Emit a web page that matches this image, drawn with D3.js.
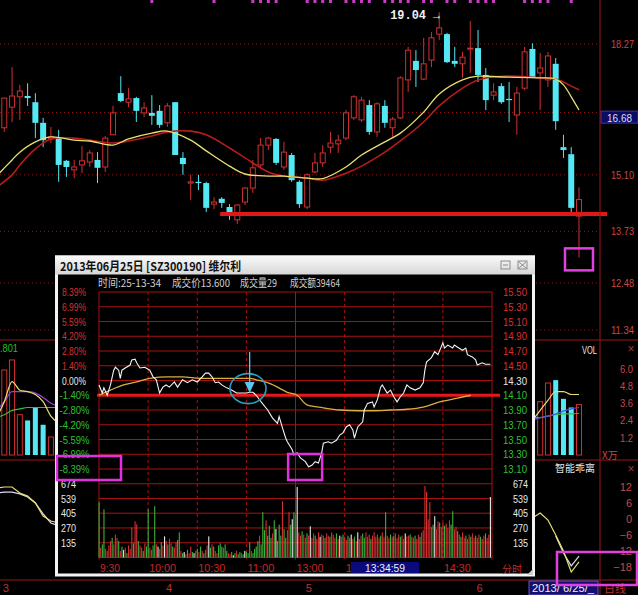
<!DOCTYPE html>
<html><head><meta charset="utf-8">
<script src="https://cdn.jsdelivr.net/npm/d3@7"></script>
<style>body{margin:0;background:#000}svg{display:block}</style></head>
<body><svg id="c" width="638" height="595"></svg>
<script>
// ---------------- DATA ----------------
const candleOpen = [
15.46,16.24,16.74,16.99,17.01,16.86,16.36,15.97,15.99,15.44,
15.22,15.34,15.41,15.46,15.29,16.07,17.08,16.86,16.96,16.60,
16.60,16.65,16.36,16.86,15.51,14.90,14.93,14.90,14.39,14.52,
14.32,14.01,14.44,14.78,15.34,15.82,15.97,15.29,15.58,14.93,
14.32,15.17,15.39,15.77,15.85,15.99,16.48,16.43,16.79,16.14,
16.77,16.24,16.48,17.40,17.86,17.42,17.88,18.51,18.51,17.86,
17.79,18.15,18.17,17.52,17.03,17.25,16.94,16.55,17.20,18.15,
17.57,17.40,17.79,15.77,15.60,14.10];
const candleHigh = [
16.02,16.96,17.71,17.28,17.32,17.08,16.48,16.26,16.19,15.46,
15.46,15.80,15.70,15.65,16.04,16.77,17.49,17.20,16.99,16.86,
17.03,16.79,16.84,16.86,15.65,15.10,15.10,14.93,14.56,14.56,
14.39,14.39,14.80,15.46,15.99,16.02,15.99,15.90,15.63,14.97,
15.14,15.63,15.82,16.14,16.07,16.67,17.03,16.99,16.91,16.86,
16.91,16.50,17.49,18.20,18.12,18.42,18.56,19.04,18.54,18.20,
18.08,18.83,18.61,17.69,17.32,17.32,17.35,17.23,18.20,18.29,
18.05,18.08,17.93,16.07,15.77,14.80];
const candleLow = [
15.46,16.14,16.38,16.43,16.77,15.99,15.77,15.87,14.93,15.05,
15.02,15.14,15.29,14.90,15.17,16.07,16.86,16.74,16.38,16.50,
16.31,16.24,16.26,15.58,15.10,14.49,14.73,14.20,14.27,14.30,
14.01,13.91,14.37,14.66,15.27,15.70,15.34,15.22,14.93,14.30,
14.27,15.14,15.29,15.63,15.63,15.94,16.43,16.38,16.07,16.02,
16.24,16.02,16.45,17.11,17.23,17.40,17.71,18.37,17.81,17.71,
17.45,17.57,17.35,16.67,16.91,16.82,16.38,16.07,17.15,17.45,
16.67,17.23,16.19,15.51,14.18,13.10];
const candleClose = [
16.02,16.96,17.01,17.13,16.96,16.36,15.94,16.02,15.34,15.29,
15.29,15.44,15.63,15.27,15.99,16.60,16.89,16.94,16.65,16.72,
16.53,16.31,16.77,15.58,15.36,14.93,14.90,14.30,14.44,14.42,
14.18,14.37,14.78,15.27,15.82,15.99,15.39,15.65,14.97,14.39,
15.10,15.39,15.63,15.87,15.94,16.60,16.99,16.91,16.14,16.82,
16.36,16.45,17.45,18.12,17.64,17.79,18.42,18.66,17.83,17.79,
17.95,18.17,17.52,16.91,17.11,16.86,16.91,17.08,18.08,17.47,
17.69,17.98,16.40,15.70,14.30,14.50];

const maIdx   = [0,2,3,5,7,10,12,15,17,20,22,25,27,30,32,35,37,40,42,45,47,50,52,55,57,60,62,65,70,72,73,74,75];
const maShort = [15.07,15.46,15.65,15.90,16.02,15.94,15.92,15.82,15.97,16.11,16.16,15.94,15.68,15.31,15.12,15.07,15.07,15.02,15.01,15.29,15.58,15.90,16.11,16.62,17.06,17.40,17.49,17.47,17.45,17.42,17.28,16.99,16.67];
const maLong  = [14.80,15.10,15.34,15.73,15.97,15.99,15.94,15.87,15.92,16.04,16.14,16.16,16.07,15.75,15.51,15.17,15.07,15.02,14.97,15.14,15.31,15.65,15.92,16.38,16.77,17.20,17.40,17.49,17.45,17.42,17.35,17.25,17.16];

const gridPrices = [18.27,16.61,15.10,13.73,12.48,11.34];
const labelPrices = [18.27,15.10,13.73,12.48,11.34];
const signalIdx = [20,28,33,34,35,36,40,41,42,43,45,46,47,48,50,51,52,53,55,56,58,59,61,62,63,64,68,69,70,71,74];
const supportLevel = 14.15;
const highLabel = "19.04";
const cursorPrice = "16.68";

const volIdx = [1,2,3,4,5,6,7,70,71,72,73,74,75];
const volVal = [5.9,6.6,2.8,2.4,3.3,2.1,1.25,3.7,5.0,5.2,3.9,3.3,3.5];
const volTicks = [1.2,2.4,3.6,4.8,6.0];
const volMaIdxL = [0,1,2,3,4,5,6,7,8];
const volMaYellowL = [2.6,3.7,5.1,4.5,4.4,4.2,3.7,2.7,2.2];
const volMaPurpleL = [3.1,3.7,4.4,4.4,4.4,4.3,4.0,3.6,3.4];
const volMaGreenL  = [2.6,2.8,3.1,3.2,3.3,3.3,3.3,3.3,3.3];
const volMaIdxR = [69,70,71,72,73,74,75];
const volMaYellowR = [2.4,3.1,3.8,4.4,4.4,4.2,4.2];
const volMaPurpleR = [2.4,2.6,2.7,2.85,3.05,3.2,3.3];
const volMaGreenR  = [2.6,2.6,2.7,2.8,2.85,2.85,2.9];

const biasTicks = [12,6,0,-6,-12,-18];
const biasIdxL = [0,1,2,3,4,5,6,7,8];
const biasYellowL = [11.6,12,12,9.75,8.6,6,1.1,-0.75,-1.5];
const biasWhiteL  = [9.75,10.1,10.1,9.4,8.25,6,1.9,-1.5,-2.6];
const biasIdxR = [69,70,71,72,73,74,75];
const biasYellowR = [0.4,2.25,-0.4,-6,-12,-19.9,-16.1];
const biasIdxR2 = [72,73,74,75];
const biasWhiteR  = [-6.4,-12.75,-17.6,-13.9];

const monthIdx = [1,22,40,62];
const monthLabels = ["3","4","5","6"];

const prevClose = 14.30;
const intraTicks = [15.50,15.30,15.10,14.90,14.70,14.50,14.30,14.10,13.90,13.70,13.50,13.30,13.10];
const pctLabels = ["8.39%","6.99%","5.59%","4.20%","2.80%","1.40%","0.00%","-1.40%","-2.80%","-4.20%","-5.59%","-6.99%","-8.39%"];
const intraVolTicks = [135,270,405,539,674];
const gridMinutes = [0,30,60,90,120,150,180,210,240];
const timeMinutes = [0,30,60,90,120,210];
const timeLabels = ["9:30","10:00","10:30","11:00","13:00","14:30"];
const cursorTime = "13:34:59";
const refLevel = 14.10;

const tickMin = [0,2,3,5,7,9,10,12,13,14,16,19,20,22,23,25,28,31,33,35,37,39,41,43,46,48,51,54,57,60,63,65,67,69,71,73,75,78,81,84,87,90,92,94,96,99,103,106,109,110,112,114,115,118,119,121,123,126,128,130,132,134,136,137,140,142,145,147,149,151,153,155,156,158,161,162,164,167,168,170,172,173,176,178,180,182,184,186,188,190,193,196,198,199,200,203,205,207,210,211,213,216,217,219,222,224,225,228,230,231,234,236,239];
const tickPrice = [14.24,14.13,14.20,14.10,14.24,14.44,14.48,14.44,14.33,14.44,14.47,14.51,14.58,14.59,14.54,14.47,14.48,14.44,14.35,14.31,14.13,14.21,14.24,14.21,14.28,14.21,14.31,14.27,14.31,14.28,14.35,14.40,14.40,14.35,14.27,14.28,14.24,14.20,14.17,14.13,14.13,14.13,14.14,14.14,14.10,14.01,13.90,13.79,13.72,13.81,13.66,13.52,13.47,13.36,13.29,13.32,13.25,13.20,13.13,13.15,13.20,13.18,13.32,13.45,13.47,13.45,13.49,13.56,13.59,13.67,13.70,13.63,13.52,13.67,13.74,13.90,13.99,14.01,13.94,14.04,14.21,14.24,14.13,14.17,14.08,14.01,14.08,14.13,14.24,14.20,14.17,14.20,14.27,14.44,14.55,14.61,14.69,14.65,14.81,14.74,14.78,14.74,14.78,14.75,14.71,14.74,14.65,14.62,14.58,14.51,14.54,14.52,14.52];
const avgMin = [0,7,15,23,31,42,51,62,72,82,92,96,103,109,115,121,127,137,147,158,167,178,188,198,208,219,227];
const avgPrice = [14.10,14.17,14.24,14.28,14.33,14.35,14.35,14.33,14.33,14.33,14.33,14.31,14.27,14.21,14.14,14.10,13.97,13.93,13.90,13.89,13.89,13.90,13.91,13.94,14.01,14.06,14.10];

const minuteVol = [
506,90,120,441,80,60,110,150,180,120,
210,180,150,60,100,70,90,40,110,80,
276,130,331,303,150,110,90,60,130,100,
441,90,70,110,469,120,100,80,140,110,
193,150,120,170,130,100,90,140,160,230,
60,40,50,30,70,40,100,50,40,60,
80,50,100,60,40,70,110,193,90,120,
100,60,40,110,130,100,90,120,60,40,
30,50,20,40,60,30,50,40,30,60,
50,40,138,60,40,80,100,150,200,120,
414,250,340,200,290,180,220,340,260,150,
300,200,515,260,180,250,414,300,350,414,
400,644,230,200,240,210,180,220,200,285,
180,220,200,170,230,190,210,200,180,220,
200,190,230,210,180,220,170,200,190,210,
190,160,200,180,210,170,190,150,230,170,
200,220,180,230,190,210,170,200,230,190,
210,180,200,230,190,414,200,180,210,190,
200,220,180,210,190,200,170,220,193,200,
211,190,180,200,170,210,190,230,250,653,
600,350,506,280,300,377,260,330,320,280,
320,290,310,270,340,300,423,260,280,240,
210,190,230,180,200,170,210,190,220,180,
200,180,210,190,170,200,220,180,210,552];
const minuteDir = [
"grggrrrrgr","rrgrgwrgrr","rgrrgrrgrg","grrggrwrgr","wrgrrgrrgg",
"rgwrgrrgwr","grgrgrrwgr","grrgggrggr","rgwgrggrgw","gggrggggrg",
"ggrgggrgwg","ggrggrrgwg","rwrrgrrgrw","rrgrrwrrgr","rgrrrgrwrg",
"rrgrwrgrwr","rggrrrgrrr","rrgrrgrrgr","grrrgrrwrr","grrgrrgrrr",
"rrrrgwrrgr","rgrrrggrrg","rgrrgrrgrr","grrgrrgrrw"].join("");

const titleText = "2013年06月25日 [SZ300190] 维尔利";
const infoTexts = ["时间:25-13-34","成交价13.600","成交量29","成交额39464"];

// ---------------- DRAWING ----------------
const RED="#d03030", CYAN="#54e8f4", YEL="#e8e070", GRID="#8a1414";
const NUM="'Liberation Sans',Arial,sans-serif", CJK="'Noto Sans CJK SC','Noto Sans',sans-serif";
const svg = d3.select("#c");
svg.append("rect").attr("width",638).attr("height",595).attr("fill","#000");

function txt(g,x,y,s,o={}){
  const t=g.append("text").attr("x",x).attr("y",y).text(s)
    .attr("fill",o.fill||"#fff").attr("font-size",o.size||11)
    .attr("font-family",o.font||NUM).attr("text-anchor",o.anchor||"start")
    .attr("dominant-baseline","central");
  if(o.w) t.attr("textLength",o.w).attr("lengthAdjust","spacingAndGlyphs");
  if(o.weight) t.attr("font-weight",o.weight);
  return t;
}

const xc = d3.scaleLinear().domain([1,75]).range([4.3,579]);
const yMain = d3.scaleLinear().domain([11.34,18.27]).range([330,44]);
const yVol = d3.scaleLinear().domain([0,6.0]).range([455,368.6]);
const yBias = d3.scaleLinear().domain([-18,12]).range([567,487]);

const defs = svg.append("defs");
defs.append("clipPath").attr("id","cm").append("rect").attr("x",0).attr("y",0).attr("width",600).attr("height",340);
defs.append("clipPath").attr("id","cv").append("rect").attr("x",0).attr("y",340).attr("width",600).attr("height",120);
defs.append("clipPath").attr("id","cb").append("rect").attr("x",0).attr("y",460).attr("width",600).attr("height",120);

// main panel
const gm = svg.append("g").attr("clip-path","url(#cm)");
gm.selectAll("line.g").data(gridPrices).join("line")
  .attr("x1",0).attr("x2",600).attr("y1",d=>yMain(d)).attr("y2",d=>yMain(d))
  .attr("stroke",GRID).attr("stroke-dasharray","1,3");

const candles = d3.range(candleOpen.length).map(i=>({i,o:candleOpen[i],h:candleHigh[i],l:candleLow[i],c:candleClose[i]}));
const cg = gm.selectAll("g.c").data(candles).join("g");
cg.append("line").attr("x1",d=>xc(d.i)).attr("x2",d=>xc(d.i))
  .attr("y1",d=>yMain(d.h)).attr("y2",d=>yMain(d.l))
  .attr("stroke",d=>d.c>=d.o?RED:CYAN).attr("stroke-width",1);
cg.append("rect")
  .attr("x",d=>d.c>=d.o?xc(d.i)-2.5:xc(d.i)-3)
  .attr("width",d=>d.c>=d.o?5:6)
  .attr("y",d=>yMain(Math.max(d.o,d.c)))
  .attr("height",d=>Math.max(1,Math.abs(yMain(d.o)-yMain(d.c))))
  .attr("fill",d=>d.c>=d.o?"#000":CYAN)
  .attr("stroke",d=>d.c>=d.o?RED:"none");

const maLine = d3.line().x(d=>xc(d[0])).y(d=>yMain(d[1])).curve(d3.curveCatmullRom);
gm.append("path").attr("d",maLine(maIdx.map((k,j)=>[k,maLong[j]]))).attr("fill","none").attr("stroke","#b81c1c").attr("stroke-width",1.6);
gm.append("path").attr("d",maLine(maIdx.map((k,j)=>[k,maShort[j]]))).attr("fill","none").attr("stroke",YEL).attr("stroke-width",1.3);

gm.selectAll("rect.s").data(signalIdx).join("rect")
  .attr("x",d=>xc(d)-1.5).attr("y",0).attr("width",3).attr("height",3).attr("fill","#c83cc8");

svg.append("line").attr("x1",xc(28.8)).attr("x2",607).attr("y1",yMain(supportLevel)).attr("y2",yMain(supportLevel))
  .attr("stroke","#e01818").attr("stroke-width",4);
txt(svg,xc(57)-49,yMain(19.04)+4,highLabel+" →",{fill:"#f0f0f0",size:12,font:"'Liberation Mono',monospace",weight:"bold",w:50});
svg.append("rect").attr("x",xc(75)-14).attr("y",yMain(13.10)-9).attr("width",28).attr("height",22)
  .attr("fill","none").attr("stroke","#e040e0").attr("stroke-width",2.5);

// price axis
const ax = svg.append("g").attr("transform","translate(611,0)")
  .call(d3.axisRight(yMain).tickValues(labelPrices).tickSize(0).tickPadding(0).tickFormat(d3.format(".2f")));
ax.select(".domain").remove();
ax.selectAll("text").attr("fill","#c84848").attr("font-size",11).attr("font-family",NUM)
  .attr("textLength",23).attr("lengthAdjust","spacingAndGlyphs");
svg.append("rect").attr("x",601).attr("y",yMain(16.68)+1.5).attr("width",37).attr("height",12)
  .attr("fill","#0c0c62").attr("stroke","#3a3aa8");
txt(svg,619.5,yMain(16.68)+8,cursorPrice,{fill:"#dcdcff",anchor:"middle",w:25});

[340,460,580].forEach(y=>svg.append("line").attr("x1",0).attr("x2",638).attr("y1",y).attr("y2",y).attr("stroke","#a01818"));
svg.append("line").attr("x1",600).attr("x2",600).attr("y1",0).attr("y2",595).attr("stroke","#a01818");

// VOL panel
const gv = svg.append("g").attr("clip-path","url(#cv)");
gv.selectAll("rect.v").data(volIdx.map((k,j)=>({k,v:volVal[j],up:candleClose[k]>=candleOpen[k]}))).join("rect")
  .attr("x",d=>xc(d.k)-2.5).attr("width",5).attr("y",d=>yVol(d.v)).attr("height",d=>yVol(0)-yVol(d.v))
  .attr("fill",d=>d.up?"#000":CYAN).attr("stroke",d=>d.up?RED:"none");
const vl = d3.line().x(d=>xc(d[0])).y(d=>yVol(d[1])).curve(d3.curveMonotoneX);
[[volMaIdxL,volMaGreenL,"#30c040"],[volMaIdxL,volMaPurpleL,"#a040d8"],[volMaIdxL,volMaYellowL,YEL],
 [volMaIdxR,volMaGreenR,"#30c040"],[volMaIdxR,volMaPurpleR,"#5050e8"],[volMaIdxR,volMaYellowR,YEL]]
 .forEach(([ix,vs,col])=>gv.append("path").attr("d",vl(ix.map((k,j)=>[k,vs[j]]))).attr("fill","none").attr("stroke",col).attr("stroke-width",1.2));
txt(svg,0,348,".801",{fill:"#20c020",size:11,w:18});
txt(svg,597,350,"VOL",{fill:"#e8e8e8",anchor:"end",size:10,w:15});
txt(svg,631,349,"×",{fill:"#b03030",anchor:"middle",size:12});
const vax = svg.append("g").attr("transform","translate(633,0)")
  .call(d3.axisLeft(yVol).tickValues(volTicks).tickSize(0).tickPadding(0).tickFormat(d3.format(".1f")));
vax.select(".domain").remove();
vax.selectAll("text").attr("fill","#c84848").attr("font-size",11).attr("font-family",NUM).attr("textLength",13).attr("lengthAdjust","spacingAndGlyphs");
txt(svg,602,454,"X万",{fill:"#c84848",size:10,font:CJK});

// bias panel
const gb = svg.append("g").attr("clip-path","url(#cb)");
const bl = d3.line().x(d=>xc(d[0])).y(d=>yBias(d[1]));
[[biasIdxL,biasWhiteL,"#d8d8f0"],[biasIdxL,biasYellowL,YEL],[biasIdxR2,biasWhiteR,"#d8d8f0"],[biasIdxR,biasYellowR,YEL]]
 .forEach(([ix,vs,col])=>gb.append("path").attr("d",bl(ix.map((k,j)=>[k,vs[j]]))).attr("fill","none").attr("stroke",col).attr("stroke-width",1.2));
txt(svg,555,467,"智能乖离",{fill:"#e8e8e8",size:10,font:CJK,w:40});
txt(svg,631,469,"×",{fill:"#b03030",anchor:"middle",size:12});
const bax = svg.append("g").attr("transform","translate(632,0)")
  .call(d3.axisLeft(yBias).tickValues(biasTicks).tickSize(0).tickPadding(0).tickFormat(d3.format("d")));
bax.select(".domain").remove();
bax.selectAll("text").attr("fill","#c84848").attr("font-size",11).attr("font-family",NUM);

// date axis
monthIdx.forEach((k,j)=>txt(svg,xc(k)-1.5,588,monthLabels[j],{fill:"#c03030",size:11}));
svg.append("rect").attr("x",529).attr("y",581).attr("width",69).attr("height",14).attr("fill","#12126e").attr("stroke","#7050c0");
txt(svg,532,588,"2013/ 6/25/_",{fill:"#f0f0f0",size:11,w:62});
txt(svg,604,588,"日线",{fill:"#c03030",size:11,font:CJK});
svg.append("rect").attr("x",557).attr("y",552).attr("width",80).attr("height",33)
  .attr("fill","none").attr("stroke","#e040e0").attr("stroke-width",2.5);

// ---------------- INTRADAY WINDOW ----------------
const xT = d3.scaleLinear().domain([0,240]).range([99,492]);
const yP = d3.scaleLinear().domain([13.10,15.50]).range([469,292]);
const yV = d3.scaleLinear().domain([0,674]).range([557.5,483.75]);

const w = svg.append("g");
w.append("rect").attr("x",56.5).attr("y",257).attr("width",477).attr("height",318).attr("fill","#000").attr("stroke","#f4f4f4").attr("stroke-width",3);
const grad = defs.append("linearGradient").attr("id","tb").attr("x1",0).attr("x2",0).attr("y1",0).attr("y2",1);
grad.append("stop").attr("offset",0).attr("stop-color","#fbfbfb");
grad.append("stop").attr("offset",1).attr("stop-color","#d6d6d6");
w.append("rect").attr("x",55).attr("y",255.5).attr("width",480).attr("height",19).attr("fill","url(#tb)");
txt(w,60,265.5,titleText,{fill:"#111",size:12,font:CJK,weight:"bold",w:181});
w.append("rect").attr("x",501).attr("y",261).attr("width",9).attr("height",8).attr("fill","none").attr("stroke","#8a8a8a");
w.append("line").attr("x1",503).attr("x2",508).attr("y1",265).attr("y2",265).attr("stroke","#8a8a8a");
w.append("rect").attr("x",518).attr("y",261).attr("width",9).attr("height",8).attr("fill","none").attr("stroke","#8a8a8a");
w.append("path").attr("d","M519,262L526,268M526,262L519,268").attr("stroke","#8a8a8a");

const infoX=[98,172,240,290], infoW=[63,58,37,50];
infoTexts.forEach((s,j)=>txt(w,infoX[j],282,s,{fill:"#cfcfcf",size:11,font:CJK,w:infoW[j]}));

const hy = intraTicks.map(d=>yP(d)).concat(intraVolTicks.map(d=>yV(d)),[yV(0)]);
w.selectAll("line.h").data(hy).join("line").attr("x1",xT(0)).attr("x2",xT(240)).attr("y1",d=>d).attr("y2",d=>d).attr("stroke","#a81212");
gridMinutes.forEach(m=>w.append("line").attr("x1",xT(m)).attr("x2",xT(m)).attr("y1",yP(15.5)).attr("y2",yV(0)+2)
  .attr("stroke","#a81212").attr("stroke-dasharray",(m%120===0)?null:"3,3"));

intraTicks.forEach((p,j)=>{
  const col = p>prevClose?"#d83030":(p<prevClose?"#30c030":"#e8e8e8");
  const lab = pctLabels[j];
  txt(w,lab[0]==="-"?59.5:62,yP(p),lab,{fill:col,size:11,w:lab[0]==="-"?30:24});
  txt(w,503,yP(p),d3.format(".2f")(p),{fill:col,size:11,w:24});
});
intraVolTicks.forEach(v=>{
  txt(w,61,yV(v),String(v),{fill:"#e8e8e8",size:11,w:15});
  txt(w,513,yV(v),String(v),{fill:"#e8e8e8",size:11,w:15});
});

const dirCol = {r:"#d23030",g:"#3cb03c",w:"#e8e8e8"};
w.selectAll("rect.mv").data(minuteVol.map((v,m)=>({m,v,d:minuteDir[m]}))).join("rect")
  .attr("x",d=>xT(d.m)-0.5).attr("width",1.1).attr("y",d=>yV(d.v)).attr("height",d=>yV(0)-yV(d.v))
  .attr("fill",d=>dirCol[d.d]);

w.append("line").attr("x1",97).attr("x2",500).attr("y1",yP(refLevel)).attr("y2",yP(refLevel)).attr("stroke","#e81818").attr("stroke-width",3);
const avgLine = d3.line().x(d=>xT(d[0])).y(d=>yP(d[1])).curve(d3.curveMonotoneX);
w.append("path").attr("d",avgLine(avgMin.map((m,j)=>[m,avgPrice[j]]))).attr("fill","none").attr("stroke","#d8b040").attr("stroke-width",1.3);
const pl = d3.line().x(d=>xT(d[0])).y(d=>yP(d[1]));
w.append("path").attr("d",pl(tickMin.map((m,j)=>[m,tickPrice[j]]))).attr("fill","none").attr("stroke","#f4f4f4").attr("stroke-width",1.1);

timeMinutes.forEach((m,j)=>txt(w,xT(m)+1,568,timeLabels[j],{fill:"#c82828",size:11,w:timeLabels[j].length===4?20:27}));
txt(w,xT(150)+1,568,"1",{fill:"#c82828",size:11});
w.append("rect").attr("x",351).attr("y",562).attr("width",68).attr("height",11).attr("fill","#0a0a7c");
txt(w,385,567.5,cursorTime,{fill:"#f0f0f0",anchor:"middle",size:11,w:40});
txt(w,502,568,"分时",{fill:"#c82828",size:10,font:CJK});
w.append("path").attr("d","M533,569L533,575L527,575Z").attr("fill","#cfcfcf");

w.append("ellipse").attr("cx",xT(91)).attr("cy",yP(14.19)).attr("rx",18).attr("ry",15).attr("fill","none").attr("stroke","#2aa0c0").attr("stroke-width",1.6);
w.append("line").attr("x1",xT(92)).attr("x2",xT(92)).attr("y1",352).attr("y2",384).attr("stroke","#58c8f0").attr("stroke-width",1.3);
w.append("path").attr("d",`M${xT(92)-5},382L${xT(92)+5},382L${xT(92)},${yP(14.13)}Z`).attr("fill","#58c8f0");
w.append("rect").attr("x",57).attr("y",yP(13.10)-13).attr("width",64).attr("height",24).attr("fill","none").attr("stroke","#e030e0").attr("stroke-width",2.5);
w.append("rect").attr("x",xT(115.5)).attr("y",yP(13.10)-15).attr("width",34).attr("height",26).attr("fill","none").attr("stroke","#e030e0").attr("stroke-width",2.5);
</script></body></html>
